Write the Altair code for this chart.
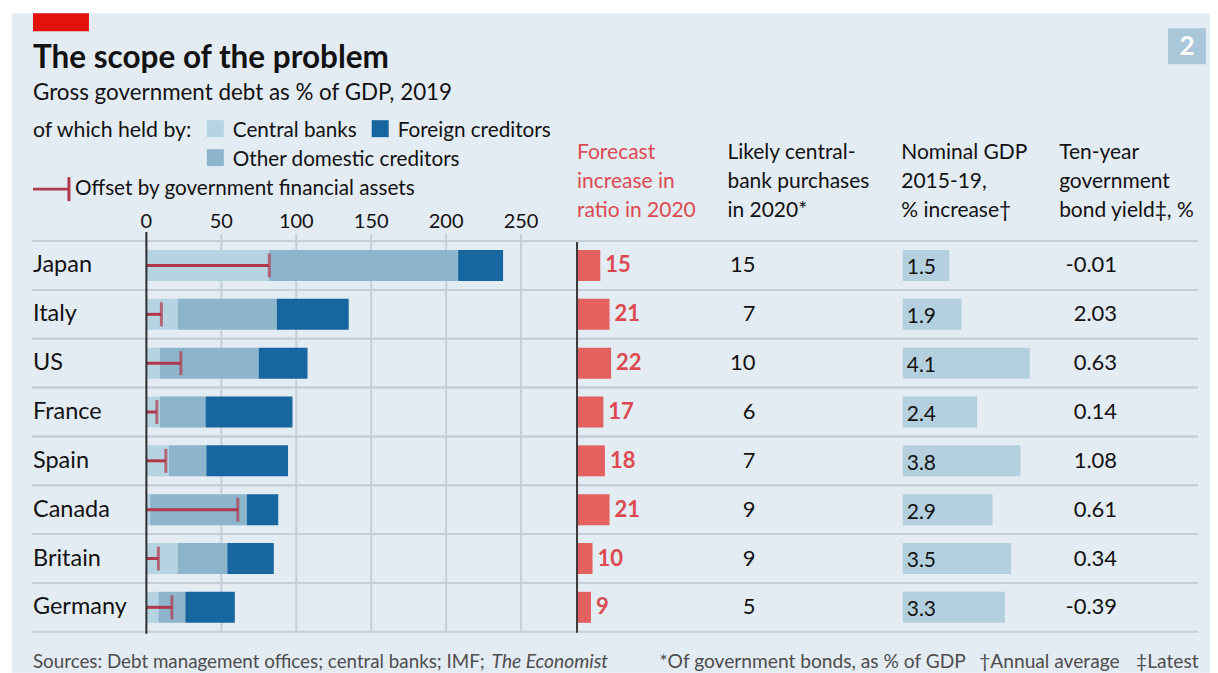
import altair as alt
import pandas as pd

# ---------------- data ----------------
countries = ["Japan", "Italy", "US", "France", "Spain", "Canada", "Britain", "Germany"]
central_banks = [82, 21, 9, 9, 15, 2.5, 21, 8]
other_domestic = [126, 66, 66, 30.5, 25, 64.5, 33, 18]
foreign_creditors = [30, 48, 32.5, 58, 54.5, 21, 31, 33]
offset_assets = [82, 10, 23, 7, 13, 61, 8, 17]
forecast_increase = [15, 21, 22, 17, 18, 21, 10, 9]
cb_purchases = [15, 7, 10, 6, 7, 9, 9, 5]
nominal_gdp = [1.5, 1.9, 4.1, 2.4, 3.8, 2.9, 3.5, 3.3]
bond_yield = [-0.01, 2.03, 0.63, 0.14, 1.08, 0.61, 0.34, -0.39]
axis_ticks = [0, 50, 100, 150, 200, 250]
holders = ["Central banks", "Other domestic creditors", "Foreign creditors"]

FONT = "Lato"
TXT = "#121212"
BG = "#e3ebf3"
GRID = "#c4cfda"
HOLDER_COLORS = ["#b6d3e2", "#8cb5cc", "#18669f"]
OFFSET_COLOR = "#b0384c"
RED_BAR = "#e3615f"
RED_TXT = "#dc4a50"
GDP_BAR = "#b4d0df"

rows = pd.DataFrame({
    "country": countries,
    "offset": offset_assets,
    "forecast": forecast_increase,
    "purchases": cb_purchases,
    "gdp": nominal_gdp,
    "yield": bond_yield,
})

seg_records = []
for i, c in enumerate(countries):
    start = 0
    for h, vals in zip(holders, [central_banks, other_domestic, foreign_creditors]):
        seg_records.append({"country": c, "holder": h, "start": start, "end": start + vals[i]})
        start += vals[i]
segs = pd.DataFrame(seg_records)
ticks = pd.DataFrame({"t": axis_ticks})
one = pd.DataFrame({"a": [0]})

# ---------------- scales ----------------
y_scale = alt.Scale(domain=countries, range=[228, 619], paddingInner=0, paddingOuter=0)
debt_scale = alt.Scale(domain=[0, 250], range=[134.5, 509.5], nice=False, zero=False)
fc_scale = alt.Scale(domain=[0, 20], range=[565.5, 596.5], nice=False)
gdp_scale = alt.Scale(domain=[0, 4], range=[891.5, 1015.5], nice=False)


def Y(bp=None):
    if bp is None:
        return alt.Y("country:N", scale=y_scale, axis=None)
    return alt.Y("country:N", scale=y_scale, axis=None, bandPosition=bp)


def txt(s, x, y, size=20, weight="normal", color=TXT, align="left", style="normal", baseline="alphabetic"):
    return alt.Chart(one).mark_text(
        align=align, baseline=baseline, fontSize=size, fontWeight=weight,
        fontStyle=style, color=color, font=FONT
    ).encode(x=alt.value(x), y=alt.value(y), text=alt.value(s))


def box(x1, x2, y1, y2, color):
    return alt.Chart(one).mark_rect(color=color).encode(
        x=alt.value(x1), x2=alt.value(x2), y=alt.value(y1), y2=alt.value(y2))


def hline(x1, x2, y, color, w):
    return alt.Chart(one).mark_rule(color=color, strokeWidth=w).encode(
        x=alt.value(x1), x2=alt.value(x2), y=alt.value(y))


def vline(x, y1, y2, color, w):
    return alt.Chart(one).mark_rule(color=color, strokeWidth=w).encode(
        x=alt.value(x), y=alt.value(y1), y2=alt.value(y2))


layers = []

# header decorations
layers.append(box(21, 77, 0, 18, "#e3120b"))
layers.append(box(1157, 1195, 15, 51, "#a9c7d8"))
layers.append(txt("2", 1176, 34, size=26, weight="bold", color="white", align="center", baseline="middle"))

layers.append(txt("The scope of the problem", 21, 55, size=31.5, weight="bold"))
layers.append(txt("Gross government debt as % of GDP, 2019", 21, 87, size=22.4))
LEG = 20.7
layers.append(txt("of which held by:", 21, 124, size=21.3))
layers.append(box(195, 212, 107, 124, HOLDER_COLORS[0]))
layers.append(txt("Central banks", 221, 124, size=LEG))
layers.append(box(360, 377, 107, 124, HOLDER_COLORS[2]))
layers.append(txt("Foreign creditors", 386, 124, size=LEG))
layers.append(box(195, 212, 136, 153, HOLDER_COLORS[1]))
layers.append(txt("Other domestic creditors", 221, 153, size=LEG))
layers.append(hline(21, 57, 176, OFFSET_COLOR, 3))
layers.append(vline(57, 164, 188, OFFSET_COLOR, 3))
layers.append(txt("Offset by government financial assets", 63, 182, size=LEG))

# column headers
hdr_y = [146, 175, 204]
for col_x, lines, color in [
    (565.5, ["Forecast", "increase in", "ratio in 2020"], RED_TXT),
    (716, ["Likely central-", "bank purchases", "in 2020*"], TXT),
    (890, ["Nominal GDP", "2015-19,", "% increase\u2020"], TXT),
    (1048, ["Ten-year", "government", "bond yield\u2021, %"], TXT),
]:
    for ln, yy in zip(lines, hdr_y):
        layers.append(txt(ln, col_x, yy, size=21, color=color))

# axis labels for debt scale
layers.append(alt.Chart(ticks).mark_text(fontSize=20, font=FONT, color=TXT, baseline="alphabetic").encode(
    x=alt.X("t:Q", scale=debt_scale, axis=None), y=alt.value(215), text="t:Q"))

# row separators
layers.append(alt.Chart(rows).mark_rule(color=GRID, strokeWidth=2).encode(
    y=Y(0), x=alt.value(20), x2=alt.value(1187)))
layers.append(alt.Chart(rows).mark_rule(color=GRID, strokeWidth=2).encode(
    y=Y(1), x=alt.value(20), x2=alt.value(1187)))

# vertical gridlines
layers.append(alt.Chart(ticks).transform_filter("datum.t > 0").mark_rule(color=GRID, strokeWidth=2).encode(
    x=alt.X("t:Q", scale=debt_scale, axis=None), y=alt.value(221), y2=alt.value(619)))

# stacked debt bars
layers.append(alt.Chart(segs).mark_bar(height=31).encode(
    x=alt.X("start:Q", scale=debt_scale, axis=None), x2="end:Q", y=Y(),
    color=alt.Color("holder:N", scale=alt.Scale(domain=holders, range=HOLDER_COLORS), legend=None)))

# offset markers
layers.append(alt.Chart(rows).transform_calculate(zero="0").mark_rule(color=OFFSET_COLOR, strokeWidth=3).encode(
    x=alt.X("zero:Q", scale=debt_scale, axis=None), x2="offset:Q", y=Y()))
layers.append(alt.Chart(rows).mark_tick(color=OFFSET_COLOR, thickness=3, size=24).encode(
    x=alt.X("offset:Q", scale=debt_scale, axis=None), y=Y()))

# zero axis
layers.append(alt.Chart(ticks).transform_filter("datum.t == 0").mark_rule(color="#2e2e2e", strokeWidth=2).encode(
    x=alt.X("t:Q", scale=debt_scale, axis=None), y=alt.value(219), y2=alt.value(621)))

# country labels
layers.append(alt.Chart(rows).mark_text(align="left", baseline="middle", fontSize=23.5, font=FONT, color=TXT).encode(
    x=alt.value(21), y=Y(), text="country:N"))

# forecast bars + labels
layers.append(alt.Chart(rows).mark_bar(height=31, color=RED_BAR).encode(
    x=alt.X("forecast:Q", scale=fc_scale, axis=None), y=Y()))
layers.append(alt.Chart(rows).mark_text(align="left", baseline="middle", dx=5, fontSize=22, fontWeight="bold",
                                        font=FONT, color=RED_TXT).encode(
    x=alt.X("forecast:Q", scale=fc_scale, axis=None), y=Y(), text="forecast:Q"))
# divider
layers.append(alt.Chart(one).transform_calculate(zero="0").mark_rule(color="#3a3a3a", strokeWidth=2).encode(
    x=alt.X("zero:Q", scale=fc_scale, axis=None), y=alt.value(229), y2=alt.value(620)))

# purchases
layers.append(alt.Chart(rows).mark_text(align="right", baseline="middle", fontSize=22, font=FONT, color=TXT).encode(
    x=alt.value(744), y=Y(), text="purchases:Q"))

# GDP bars + labels
layers.append(alt.Chart(rows).mark_bar(height=31, color=GDP_BAR).encode(
    x=alt.X("gdp:Q", scale=gdp_scale, axis=None), y=Y()))
layers.append(alt.Chart(rows).mark_text(align="left", baseline="middle", dy=3, fontSize=21, font=FONT, color=TXT).encode(
    x=alt.value(895.5), y=Y(), text=alt.Text("gdp:Q", format=".1f")))

# yields (plain hyphen minus, as in the original)
layers.append(alt.Chart(rows).transform_calculate(
    ylab="replace(format(datum.yield, '.2f'), '\u2212', '-')"
).mark_text(align="right", baseline="middle", fontSize=22, font=FONT, color=TXT).encode(
    x=alt.value(1106), y=Y(), text="ylab:N"))

# footer
FOOT = "#4d4d4d"
FS = 19.2
layers.append(txt("Sources: Debt management offices; central banks; IMF;", 21, 655, size=18.8, color=FOOT))
layers.append(txt("The Economist", 480, 655, size=FS, color=FOOT, style="italic"))
layers.append(txt("*Of government bonds, as % of GDP", 648, 655, size=FS, color=FOOT))
layers.append(txt("\u2020Annual average", 968, 655, size=FS, color=FOOT))
layers.append(txt("\u2021Latest", 1125, 655, size=FS, color=FOOT))

chart = alt.layer(*layers).resolve_scale(x="independent").properties(
    width=1199, height=660, background="white",
    padding={"left": 4, "top": 5, "right": 0, "bottom": 0},
).configure_view(fill=BG, strokeWidth=0)

chart.save("out.html", embed_options={"renderer": "svg", "actions": False})
